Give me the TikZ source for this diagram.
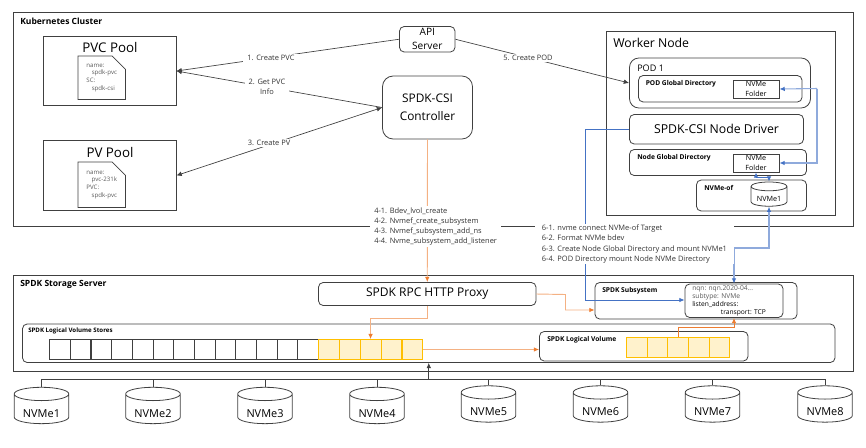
\documentclass[tikz,border=0pt]{standalone}
\usepackage{fontspec}
\setmainfont{Open Sans}
\usetikzlibrary{arrows.meta,calc,shapes.geometric,shapes.misc}
\definecolor{LineGray}{rgb}{0.25,0.25,0.25}
\definecolor{TipOrange}{RGB}{237,125,49}
\definecolor{PaleOrange}{RGB}{244,177,131}
\definecolor{TipBlue}{RGB}{68,114,196}
\definecolor{PaleBlue}{RGB}{143,170,220}
\definecolor{CellFill}{rgb}{1,0.95,0.8}
\definecolor{CellLine}{rgb}{1,0.75,0}
\tikzset{
  sized/.style n args={2}{minimum width=#1*0.75pt,minimum height=#2*0.75pt,inner sep=0pt},
  plainbox/.style={draw=LineGray,line width=0.6pt},
  roundbox/.style={plainbox,rounded corners=3.5pt},
  docbox/.style={plainbox,chamfered rectangle,chamfered rectangle corners=north east,chamfered rectangle xsep=5pt,chamfered rectangle ysep=5pt,font=\fontsize{4.6}{5.7}\selectfont,text=black!65,align=left},
  disk/.style={draw=LineGray,line width=0.6pt,cylinder,shape border rotate=90,shape aspect=0.36,inner sep=0pt,minimum width=41pt,minimum height=20.5pt,text height=12pt,text depth=0pt,font=\fontsize{8.2}{10}\selectfont},
  whitecell/.style={draw=black!75,line width=0.5pt,sized={20.8}{20}},
  yellowcell/.style={draw=CellLine,fill=CellFill,line width=0.6pt,sized={20.8}{20}},
  bigtitle/.style={font=\fontsize{9.2}{12.5}\selectfont},
  boldtitle/.style={font=\fontsize{6.4}{8}\selectfont\bfseries,anchor=west,inner sep=0pt},
  smalltitle/.style={font=\fontsize{5}{7}\selectfont\bfseries,anchor=west,inner sep=0pt},
  steplabel/.style={fill=white,font=\fontsize{5.6}{7.6}\selectfont,text=black!80,align=left,inner xsep=3pt,inner ysep=1pt},
  grayline/.style={draw=LineGray,line width=0.5pt,->,>={Latex[length=4pt,width=3.5pt]}},
  bus/.style={draw=LineGray,line width=0.6pt},
  orangeline/.style={draw=PaleOrange,line width=0.7pt,-{Latex[length=4pt,width=3.5pt,color=TipOrange]}},
  strongorange/.style={draw=TipOrange,line width=0.7pt,-{Latex[length=4pt,width=3.5pt,color=TipOrange]}},
  blueline/.style={draw=TipBlue,line width=0.7pt,-{Latex[length=4pt,width=3.5pt,color=TipBlue]}},
  lightblueline/.style={draw=PaleBlue,line width=0.8pt,-{Latex[length=4pt,width=3.5pt,color=TipBlue]}},
  bothtips/.style={{Latex[length=4pt,width=3.5pt,color=TipBlue]}-{Latex[length=4pt,width=3.5pt,color=TipBlue]}},
}
\begin{document}
\begin{tikzpicture}[x=0.75pt,y=-0.75pt]
  \useasboundingbox (0,0) rectangle (866,447);
  % kubernetes side
  \node[plainbox,sized={839.5}{213.5}] (cluster) at (433.25,119.25) {};
  \node[boldtitle] (clustertitle) at (20,21) {Kubernetes Cluster};
  \node[plainbox,sized={132.5}{69}] (pvc) at (109.75,71) {};
  \node[bigtitle,font=\fontsize{10}{12}\selectfont] (pvctitle) at (110,47) {PVC Pool};
  \node[docbox,sized={47.5}{43.5}] (pvcdoc) at (101.75,77.75) {name:\\\hspace*{4pt}spdk-pvc\hspace*{4pt}\\SC:\\\hspace*{4pt}spdk-csi};
  \node[plainbox,sized={132.5}{70}] (pv) at (109.75,175.5) {};
  \node[bigtitle,font=\fontsize{10}{12}\selectfont] (pvtitle) at (110,152) {PV Pool};
  \node[docbox,sized={47.5}{45.5}] (pvdoc) at (101.75,184.75) {name:\\\hspace*{4pt}pvc-231k\hspace*{4pt}\\PVC:\\\hspace*{4pt}spdk-pvc};
  \node[roundbox,sized={55.5}{25.5},align=center,font=\fontsize{7.6}{10.5}\selectfont] (api) at (427.25,39.25) {API\\Server};
  \node[plainbox,rounded corners=8pt,sized={90}{63},align=center,font=\fontsize{8.9}{13.5}\selectfont] (ctrl) at (427.5,107.5) {SPDK-CSI\\Controller};
  % worker node
  \node[plainbox,sized={228.5}{183.5}] (worker) at (720.75,123.25) {};
  \node[bigtitle,anchor=west,inner sep=0pt] (workertitle) at (613,43) {Worker Node};
  \node[plainbox,rounded corners=7pt,sized={181}{50}] (pod) at (720,83) {};
  \node[font=\fontsize{6.8}{8}\selectfont,anchor=west,inner sep=0pt] (podtitle) at (637,68.5) {POD 1};
  \node[roundbox,sized={163.5}{26.5}] (poddir) at (720.25,88.75) {};
  \node[smalltitle] (poddirtitle) at (645.5,84) {POD Global Directory};
  \node[plainbox,sized={46}{18},align=center,font=\fontsize{5.4}{7.2}\selectfont] (podfolder) at (756,89) {NVMe\\Folder};
  \node[roundbox,sized={174}{29.5},bigtitle] (driver) at (716.5,129.25) {SPDK-CSI Node Driver};
  \node[roundbox,sized={177}{26}] (nodedir) at (718,162.5) {};
  \node[smalltitle] (nodedirtitle) at (637,158) {Node Global Directory};
  \node[plainbox,sized={46}{18},align=center,font=\fontsize{5.4}{7.2}\selectfont] (nodefolder) at (756,163) {NVMe\\Folder};
  \node[roundbox,sized={110}{31}] (nvmeof) at (751.5,195.5) {};
  \node[smalltitle] (nvmeoftitle) at (704,188) {NVMe-of};
  \node[disk,minimum width=27pt,minimum height=17pt,text height=8pt,font=\fontsize{5.4}{7}\selectfont] (nvmedisk) at (769,196.5) {NVMe1};
  % storage server
  \node[plainbox,sized={839.5}{95.5}] (server) at (433.25,323.25) {};
  \node[boldtitle] (servertitle) at (20,284.5) {SPDK Storage Server};
  \node[roundbox,sized={217.5}{23},bigtitle,font=\fontsize{9}{12}\selectfont] (proxy) at (427.25,294) {SPDK RPC HTTP Proxy};
  \node[roundbox,sized={202}{36.5}] (subsys) at (696,300.75) {};
  \node[smalltitle] (subsystitle) at (602,291) {SPDK Subsystem};
  \node[roundbox,sized={98}{33.5}] (target) at (734,300.75) {};
  \node[anchor=north west,inner sep=0pt,align=left,font=\fontsize{5}{6.1}\selectfont] (targettext) at (692,285) {{\color{black!65}nqn: nqn.2020-04...}\\{\color{black!65}subtype: NVMe}\\listen\_address:\\\hspace*{21.5pt}transport: TCP};
  \node[roundbox,sized={812.5}{38.5}] (stores) at (428.75,343.25) {};
  \node[smalltitle,font=\fontsize{4.6}{7}\selectfont\bfseries] (storestitle) at (28,331) {SPDK Logical Volume Stores};
  \foreach \i in {1,...,13}
    \node[whitecell] (sc\i) at ({49.5+(\i-0.5)*20.68},349.5) {};
  \foreach \i in {1,...,5}
    \node[yellowcell] (ys\i) at ({318.3+(\i-0.5)*20.9},349.5) {};
  \node[roundbox,sized={208.5}{29.5}] (lv) at (643.75,346.25) {};
  \node[smalltitle] (lvtitle) at (547,340) {SPDK Logical Volume};
  \foreach \i in {1,...,5}
    \node[yellowcell] (lc\i) at ({626.3+(\i-0.5)*20.7},347.5) {};
  % disks
  \node[disk] (d1) at (41.5,409) {NVMe1};
  \node[disk] (d2) at (153,409) {NVMe2};
  \node[disk] (d3) at (265,409) {NVMe3};
  \node[disk] (d4) at (377,409) {NVMe4};
  \node[disk] (d5) at (488.5,407.5) {NVMe5};
  \node[disk] (d6) at (600.5,407.5) {NVMe6};
  \node[disk] (d7) at (712.5,407.5) {NVMe7};
  \node[disk] (d8) at (825,407.5) {NVMe8};
  \coordinate (busmid) at (stores.south |- 0,379);
  \draw[bus] (d1.north) |- (d8.north |- busmid) -- (d8.north);
  \draw[bus] (d2.north) -- (d2.north |- busmid);
  \draw[bus] (d3.north) -- (d3.north |- busmid);
  \draw[bus] (d4.north) -- (d4.north |- busmid);
  \draw[bus] (d5.north) -- (d5.north |- busmid);
  \draw[bus] (d6.north) -- (d6.north |- busmid);
  \draw[bus] (d7.north) -- (d7.north |- busmid);
  \draw[grayline] (busmid) -- (stores.south);
  % calls in the cluster
  \draw[grayline] (api.west) -- (pvc.east);
  \draw[grayline] (ctrl.west) -- (pvc.east);
  \draw[grayline,<->] (pv.east) -- (ctrl.west);
  \draw[grayline] (api.east) -- (pod.west);
  \node[steplabel] (step1) at (271,58) {1. Create PVC};
  \node[steplabel,align=center] (step2) at (267,87) {2. Get PVC\\Info};
  \node[steplabel] (step3) at (269,143) {3. Create PV};
  \node[steplabel] (step5) at (528,58) {5. Create POD};
  % calls to the server
  \draw[orangeline] (ctrl.south) -- (proxy.north);
  \draw[blueline] (driver.west) -| (585,300) -- (target.west |- 0,300);
  \draw[lightblueline,bothtips] (nvmedisk.south) -- (nvmedisk.south |- 0,248) -| (target.north);
  \node[steplabel,anchor=west] (step4) at (370,226.5) {4-1. Bdev\_lvol\_create\\4-2. Nvmef\_create\_subsystem\\4-3. Nvmef\_subsystem\_add\_ns\\4-4. Nvme\_subsystem\_add\_listener};
  \node[steplabel,anchor=west,inner xsep=5pt] (step6) at (535,244) {6-1. nvme connect NVMe-of Target\\6-2. Format NVMe bdev\\6-3. Create Node Global Directory and mount NVMe1\\6-4. POD Directory mount Node NVMe Directory};
  \draw[orangeline] (proxy.east) -- (565.5,294.5) |- (subsys.west |- 0,310);
  \draw[orangeline] (proxy.south) -- (proxy.south |- 0,318.5) -| (ys3.north);
  \draw[orangeline] (ys5.east) -- (ys5.east -| lv.west);
  \draw[strongorange] (lc3.north) |- (target.south |- 0,327.3) -- (target.south);
  % folders
  \draw[lightblueline] (817,88.5) -- (podfolder.east);
  \draw[lightblueline] (817,88.5) |- (nodefolder.east);
  \draw[blueline,bothtips] (nodefolder.south) -- ++(0,5) -| (nvmedisk.north);
\end{tikzpicture}
\end{document}
